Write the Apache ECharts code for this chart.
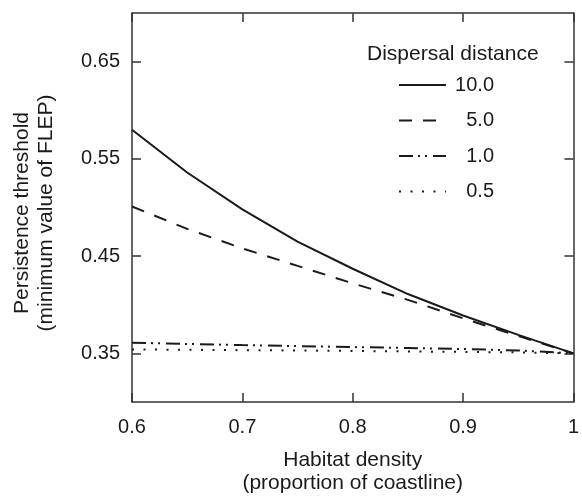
<!DOCTYPE html>
<html>
<head>
<meta charset="utf-8">
<script src="https://cdn.jsdelivr.net/npm/echarts@6/dist/echarts.min.js"></script>
<style>html,body{margin:0;padding:0;background:#fff;}#chart{width:582px;height:500px;}</style>
</head>
<body>
<div id="chart"></div>
<script>
var habitatDensity = [0.6, 0.65, 0.7, 0.75, 0.8, 0.85, 0.9, 0.95, 1.0];
var dist10 = [0.580, 0.536, 0.498, 0.465, 0.437, 0.411, 0.389, 0.369, 0.350];
var dist5 = [0.501, 0.478, 0.458, 0.440, 0.422, 0.405, 0.386, 0.368, 0.350];
var dist1 = [0.361, 0.3597, 0.3585, 0.3575, 0.3565, 0.3555, 0.3545, 0.353, 0.350];
var dist05 = [0.354, 0.3537, 0.3533, 0.353, 0.3525, 0.352, 0.3515, 0.351, 0.350];
var seriesNames = ['10.0', '5.0', '1.0', '0.5'];
var yTicks = [0.35, 0.45, 0.55, 0.65];

function pairs(ys) { return habitatDensity.map(function (x, i) { return [x, ys[i]]; }); }

var FONT = '"Liberation Sans", Arial, Helvetica, sans-serif';
var INK = '#1a1a1a';
var axisLineStyle = { color: '#333', width: 1.5 };

var chart = echarts.init(document.getElementById('chart'), null, { renderer: 'canvas' });
var lineDefs = [
  { data: dist10, type: 'solid' },
  { data: dist5, type: [13, 11] },
  { data: dist1, type: [14, 5, 2, 5, 2, 6] },
  { data: dist05, type: [2, 9.5] }
];
chart.setOption({
  animation: false,
  backgroundColor: '#fff',
  title: {
    text: 'Dispersal distance',
    left: 367, top: 44, padding: 0,
    textStyle: { fontFamily: FONT, fontSize: 21, fontWeight: 'normal', color: INK }
  },
  legend: {
    orient: 'vertical',
    left: 398, top: 75, padding: 0,
    itemWidth: 47, itemHeight: 20, itemGap: 15.5,
    itemStyle: { opacity: 0, borderWidth: 0 },
    data: seriesNames,
    formatter: function (n) { return '{v|' + n + '}'; },
    textStyle: {
      fontFamily: FONT, fontSize: 20, color: INK,
      rich: { v: { width: 43, align: 'right', fontFamily: FONT, fontSize: 20, color: INK } }
    }
  },
  grid: { left: 132, right: 4, top: 13, bottom: 93, containLabel: false },
  xAxis: [{
    type: 'value', min: 0.6, max: 1.0, interval: 0.1, position: 'bottom',
    name: 'Habitat density\n(proportion of coastline)',
    nameLocation: 'middle', nameGap: 47,
    nameTextStyle: { fontFamily: FONT, fontSize: 21, color: INK, lineHeight: 23 },
    axisLine: { show: true, onZero: false, lineStyle: axisLineStyle },
    axisTick: { show: true, inside: true, length: 9, lineStyle: axisLineStyle },
    axisLabel: {
      fontFamily: FONT, fontSize: 20, color: INK, margin: 15, lineHeight: 20,
      formatter: function (v) { return Math.abs(v - 1) < 1e-9 ? '1' : v.toFixed(1); },
      showMinLabel: true, showMaxLabel: true
    },
    splitLine: { show: false }
  }, {
    type: 'value', min: 0.6, max: 1.0, interval: 0.1, position: 'top',
    axisLine: { show: true, onZero: false, lineStyle: axisLineStyle },
    axisTick: { show: true, inside: true, length: 9, lineStyle: axisLineStyle },
    axisLabel: { show: false }, splitLine: { show: false }
  }],
  yAxis: [{
    type: 'value', min: 0.3, max: 0.7, position: 'left',
    name: 'Persistence threshold\n(minimum value of FLEP)',
    nameLocation: 'middle', nameGap: 74,
    nameTextStyle: { fontFamily: FONT, fontSize: 21, color: INK, lineHeight: 24, padding: [0, 11, 0, 0] },
    axisLine: { show: true, onZero: false, lineStyle: axisLineStyle },
    axisTick: { show: true, inside: true, length: 9, lineStyle: axisLineStyle, customValues: yTicks },
    axisLabel: {
      fontFamily: FONT, fontSize: 20, color: INK, margin: 12,
      customValues: yTicks,
      formatter: function (v) { return v.toFixed(2); }
    },
    splitLine: { show: false }
  }, {
    type: 'value', min: 0.3, max: 0.7, position: 'right',
    axisLine: { show: true, onZero: false, lineStyle: axisLineStyle },
    axisTick: { show: true, inside: true, length: 9, lineStyle: axisLineStyle, customValues: yTicks },
    axisLabel: { show: false, customValues: yTicks }, splitLine: { show: false }
  }],
  series: lineDefs.map(function (d, i) {
    return {
      name: seriesNames[i], type: 'line', data: pairs(d.data),
      xAxisIndex: 0, yAxisIndex: 0,
      symbol: 'none', showSymbol: false, smooth: false,
      lineStyle: { color: INK, width: 2, type: d.type },
      itemStyle: { color: INK }
    };
  })
});
</script>
</body>
</html>
